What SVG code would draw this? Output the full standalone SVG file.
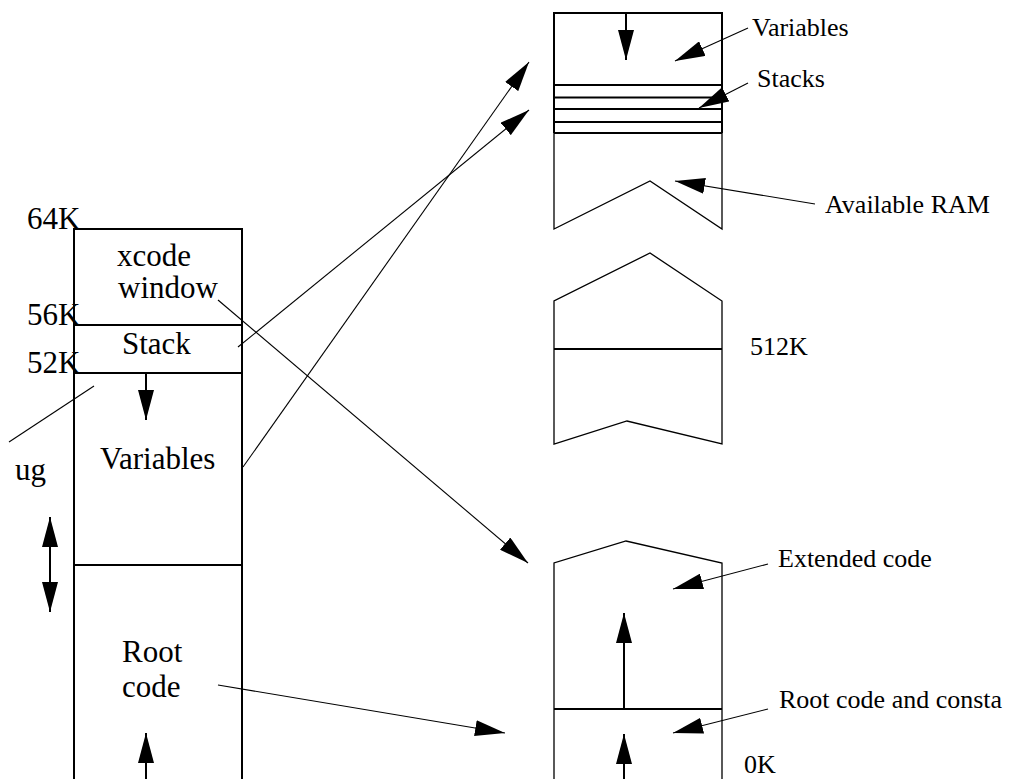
<svg xmlns="http://www.w3.org/2000/svg" width="1011" height="779" viewBox="0 0 1011 779">
  <style>
    .big { font-family: "Liberation Serif", "Times New Roman", serif; font-size: 31px; fill: #000; }
    .lbl { font-family: "Liberation Serif", "Times New Roman", serif; font-size: 26px; fill: #000; }
    .thick { fill: none; stroke: #000; stroke-width: 2; }
    .thin { fill: none; stroke: #000; stroke-width: 1.3; }
    .conn { fill: none; stroke: #000; stroke-width: 1.1; }
    .grow { fill: none; stroke: #000; stroke-width: 2; }
  </style>
  <defs>
    <marker id="head" markerUnits="userSpaceOnUse" markerWidth="30" markerHeight="16" refX="30" refY="8" orient="auto">
      <path d="M0,0 L30,8 L0,16 Z" fill="#000"/>
    </marker>
    <marker id="headStart" markerUnits="userSpaceOnUse" markerWidth="30" markerHeight="16" refX="30" refY="8" orient="auto-start-reverse">
      <path d="M0,0 L30,8 L0,16 Z" fill="#000"/>
    </marker>
  </defs>
  <rect width="1011" height="779" fill="#fff"/>

  <!-- 64K logical address space -->
  <g id="logical-space">
    <path class="thick" d="M74,790 V229 H242 V790"/>
    <line class="thick" x1="74" y1="325" x2="242" y2="325"/>
    <line class="thick" x1="74" y1="373" x2="242" y2="373"/>
    <line class="thick" x1="74" y1="565" x2="242" y2="565"/>
    <text class="big" x="27" y="229">64K</text>
    <text class="big" x="27" y="325">56K</text>
    <text class="big" x="27" y="373">52K</text>
    <text class="big" x="117" y="266">xcode</text>
    <text class="big" x="118" y="298">window</text>
    <text class="big" x="122" y="354">Stack</text>
    <text class="big" x="100" y="469">Variables</text>
    <text class="big" x="122" y="662">Root</text>
    <text class="big" x="122" y="697">code</text>
    <text class="big" x="15" y="480">ug</text>
    <line class="grow" x1="146" y1="373" x2="146" y2="420" marker-end="url(#head)"/>
    <line class="grow" x1="50" y1="517" x2="50" y2="612" marker-start="url(#headStart)" marker-end="url(#head)"/>
    <line class="grow" x1="146" y1="790" x2="146" y2="733" marker-end="url(#head)"/>
  </g>

  <!-- top of physical RAM: variables and stacks -->
  <g id="ram-top">
    <path class="thick" d="M554,133 V13 H722 V133"/>
    <line class="thick" x1="554" y1="85" x2="722" y2="85"/>
    <line class="thick" x1="554" y1="97.5" x2="722" y2="97.5"/>
    <line class="thick" x1="554" y1="109" x2="722" y2="109"/>
    <line class="thick" x1="554" y1="122" x2="722" y2="122"/>
    <line class="thick" x1="554" y1="133" x2="722" y2="133"/>
    <path class="thin" d="M554,133 V229 L650,181 L722,229 V133"/>
    <line class="grow" x1="626" y1="13" x2="626" y2="60" marker-end="url(#head)"/>
    <text class="lbl" x="752" y="36">Variables</text>
    <text class="lbl" x="757" y="87">Stacks</text>
    <text class="lbl" x="825" y="213">Available RAM</text>
  </g>

  <!-- middle of physical RAM -->
  <g id="ram-middle">
    <path class="thin" d="M554,444 V301 L650,253 L722,301 V444 L627,421 Z"/>
    <line class="thick" x1="554" y1="349" x2="722" y2="349"/>
    <text class="lbl" x="750" y="355">512K</text>
  </g>

  <!-- bottom of physical memory: root and extended code -->
  <g id="code-space">
    <path class="thin" d="M554,790 V563 L626,541 L722,563 V790"/>
    <line class="thick" x1="554" y1="709" x2="722" y2="709"/>
    <line class="grow" x1="624" y1="709" x2="624" y2="613" marker-end="url(#head)"/>
    <line class="grow" x1="624" y1="790" x2="624" y2="734" marker-end="url(#head)"/>
    <text class="lbl" x="778" y="567">Extended code</text>
    <text class="lbl" x="779" y="708">Root code and consta</text>
    <text class="lbl" x="744" y="773">0K</text>
  </g>

  <!-- mapping connectors and label pointers -->
  <g id="connectors">
    <line class="conn" x1="238" y1="347" x2="529" y2="110" marker-end="url(#head)"/>
    <line class="conn" x1="243" y1="467" x2="529" y2="62" marker-end="url(#head)"/>
    <line class="conn" x1="218" y1="300" x2="528" y2="563" marker-end="url(#head)"/>
    <line class="conn" x1="218" y1="685" x2="505" y2="733" marker-end="url(#head)"/>
    <line class="conn" x1="9" y1="442" x2="94" y2="386"/>
    <line class="conn" x1="748" y1="28" x2="675" y2="61" marker-end="url(#head)"/>
    <line class="conn" x1="748" y1="83" x2="699" y2="108" marker-end="url(#head)"/>
    <line class="conn" x1="815" y1="204" x2="675" y2="181" marker-end="url(#head)"/>
    <line class="conn" x1="768" y1="564" x2="673" y2="589" marker-end="url(#head)"/>
    <line class="conn" x1="768" y1="709" x2="673" y2="733" marker-end="url(#head)"/>
  </g>
</svg>
